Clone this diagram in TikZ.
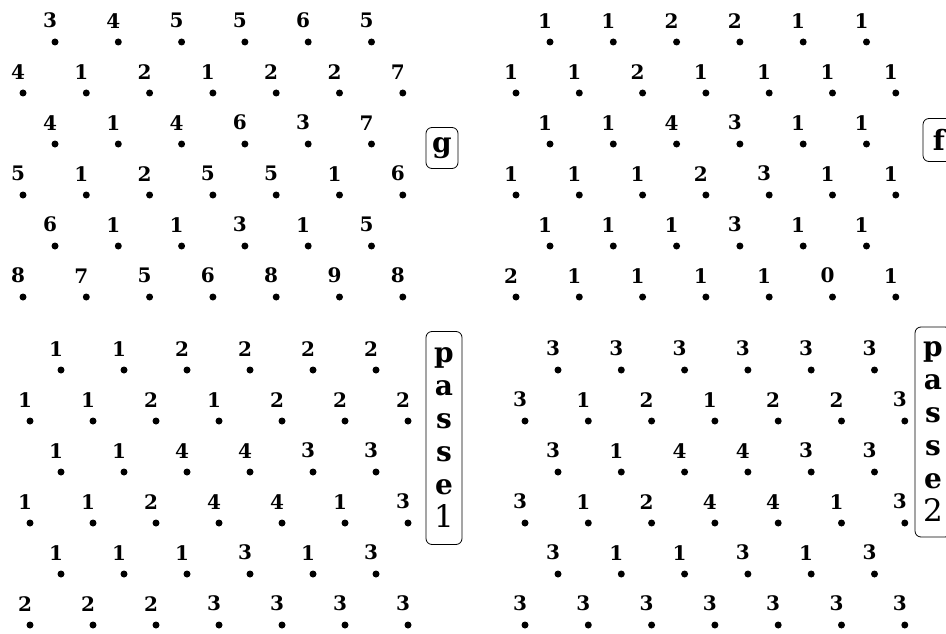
\documentclass[tikz,border=0pt]{standalone}
\usepackage{fontspec}
\setmainfont{DejaVu Serif}
\usetikzlibrary{positioning}

\begin{document}
\begin{tikzpicture}[
    x=1pt, y=-1pt,
    label distance=10pt,
    site/.style={circle, fill=black, inner sep=0pt, minimum size=7pt},
    digit/.style={font=\fontsize{20}{20}\selectfont\bfseries, inner sep=0pt, xshift=-5pt},
    tag/.style={draw, line width=0.8pt, rounded corners=6pt, inner sep=0pt, align=center, font=\fontsize{28}{33}\selectfont\bfseries},
]
    \clip (0,0) rectangle (946,634);

    % g (top left)
    \begin{scope}[shift={(23,42)}]
        \foreach \row [count=\r] in {{3,4,5,5,6,5},{4,1,2,1,2,2,7},{4,1,4,6,3,7},{5,1,2,5,5,1,6},{6,1,1,3,1,5},{8,7,5,6,8,9,8}}
            \foreach \v [count=\c] in \row {
                \pgfmathsetmacro\sx{mod(\r,2)*32}
                \node[site, label={[digit]above:\v}] (g-\r-\c) at ({\sx+(\c-1)*63.3}, {(\r-1)*51}) {};
            }
    \end{scope}
    \node[tag, minimum width=32pt, minimum height=41pt] (gtag) at (442,148) {g};

    % f (top right)
    \begin{scope}[shift={(516,42)}]
        \foreach \row [count=\r] in {{1,1,2,2,1,1},{1,1,2,1,1,1,1},{1,1,4,3,1,1},{1,1,1,2,3,1,1},{1,1,1,3,1,1},{2,1,1,1,1,0,1}}
            \foreach \v [count=\c] in \row {
                \pgfmathsetmacro\sx{mod(\r,2)*34}
                \node[site, label={[digit]above:\v}] (f-\r-\c) at ({\sx+(\c-1)*63.3}, {(\r-1)*51}) {};
            }
    \end{scope}
    \node[tag, minimum width=32pt, minimum height=43pt] (ftag) at (939,140) {f};

    % passe 1 (bottom left)
    \begin{scope}[shift={(30,370)}]
        \foreach \row [count=\r] in {{1,1,2,2,2,2},{1,1,2,1,2,2,2},{1,1,4,4,3,3},{1,1,2,4,4,1,3},{1,1,1,3,1,3},{2,2,2,3,3,3,3}}
            \foreach \v [count=\c] in \row {
                \pgfmathsetmacro\sx{mod(\r,2)*31}
                \node[site, label={[digit]above:\v}] (pa-\r-\c) at ({\sx+(\c-1)*63}, {(\r-1)*51}) {};
            }
    \end{scope}
    \node[tag, minimum width=36pt, minimum height=213pt] (patag) at (444,438) {p\\a\\s\\s\\e\\\mdseries\fontsize{31}{33}\selectfont 1};

    % passe 2 (bottom right)
    \begin{scope}[shift={(525,370)}]
        \foreach \row [count=\r] in {{3,3,3,3,3,3},{3,1,2,1,2,2,3},{3,1,4,4,3,3},{3,1,2,4,4,1,3},{3,1,1,3,1,3},{3,3,3,3,3,3,3}}
            \foreach \v [count=\c] in \row {
                \pgfmathsetmacro\sx{mod(\r,2)*33}
                \node[site, label={[digit]above:\v}] (pb-\r-\c) at ({\sx+(\c-1)*63.3}, {(\r-1)*51}) {};
            }
    \end{scope}
    \node[tag, minimum width=36pt, minimum height=210pt] (pbtag) at (933,432) {p\\a\\s\\s\\e\\\mdseries\fontsize{31}{33}\selectfont 2};
\end{tikzpicture}
\end{document}
